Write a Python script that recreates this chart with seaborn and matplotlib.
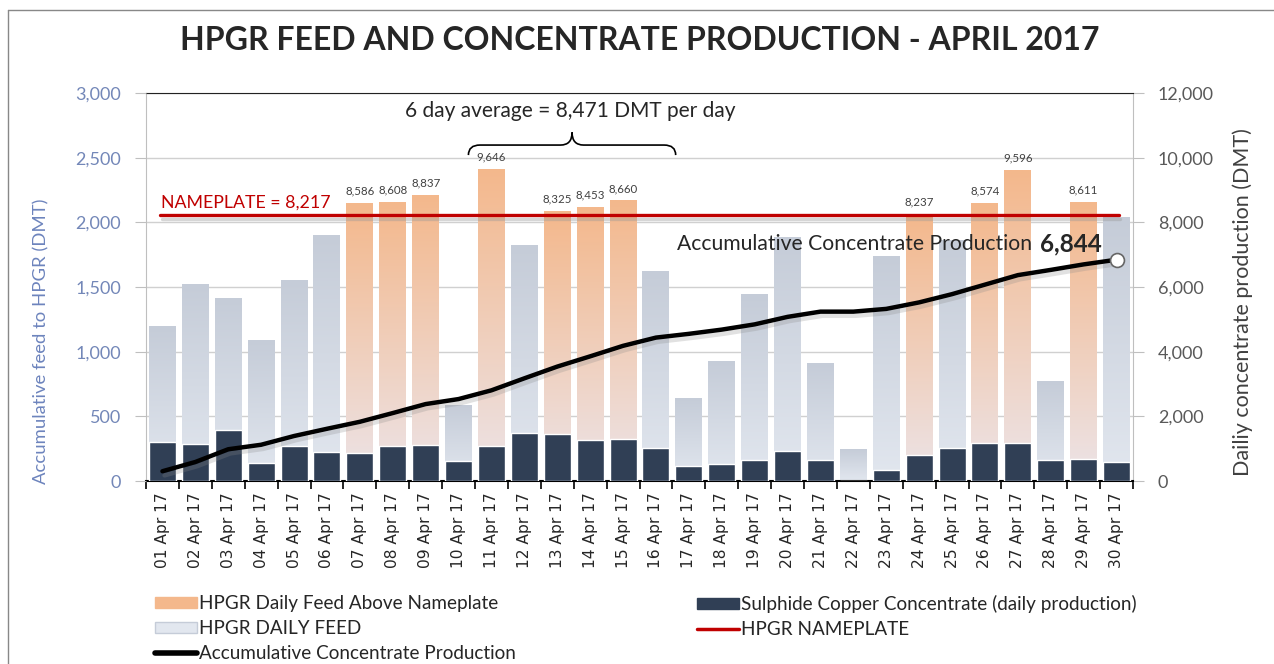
import numpy as np
import pandas as pd
import matplotlib
matplotlib.use("Agg")
import matplotlib.pyplot as plt
import matplotlib.patheffects as pe
from matplotlib.colors import LinearSegmentedColormap
from matplotlib.path import Path
from matplotlib.patches import PathPatch, Patch
from matplotlib.lines import Line2D
from matplotlib.ticker import FuncFormatter, FixedLocator
import seaborn as sns

# ---------------- data ----------------
days = ["%02d Apr 17" % d for d in range(1, 31)]
daily_feed = [4790, 6090, 5630, 4330, 6190, 7580, 8586, 8608, 8837, 2350,
              9646, 7270, 8325, 8453, 8660, 6465, 2540, 3710, 5780, 7520,
              3620, 960, 6930, 8237, 7450, 8574, 9596, 3090, 8611, 8150]
concentrate = [302, 286, 394, 139, 270, 224, 216, 270, 278, 155,
               270, 371, 363, 317, 325, 255, 116, 131, 162, 232,
               162, 0, 85, 201, 255, 294, 294, 162, 170, 145]
accum_conc = [302, 588, 982, 1121, 1391, 1615, 1831, 2101, 2379, 2534,
              2804, 3175, 3538, 3855, 4180, 4435, 4551, 4682, 4844, 5076,
              5238, 5238, 5323, 5524, 5779, 6073, 6367, 6529, 6699, 6844]
nameplate = 8217

sns.set_style("white")
plt.rcParams['font.family'] = ['Lato', 'DejaVu Sans']

df = pd.DataFrame({"day": days, "feed": daily_feed, "conc": concentrate})
df["status"] = np.where(df["feed"] > nameplate, "above", "below")

ORANGE_TOP, ORANGE_BOT = "#f4b88c", "#ece4e8"
GREY_TOP, GREY_BOT = "#c5ccd8", "#e2e7ef"
DARK = "#303f55"
RED = "#c00000"

fig = plt.figure(figsize=(12.74, 6.64), dpi=100)
ax_r = fig.add_axes([146/1274, 1-481/664, (1133-146)/1274, (481-93)/664])
ax = ax_r.twinx()
ax_l = ax_r.twinx()
ax_r.set_zorder(1)
ax.set_zorder(2)
ax_l.set_zorder(3)
for a in (ax, ax_l):
    a.patch.set_visible(False)

# daily feed bars with gradient
sns.barplot(data=df, x="day", y="feed", hue="status", hue_order=["below", "above"],
            palette={"below": GREY_TOP, "above": ORANGE_TOP}, dodge=False,
            width=0.82, legend=False, ax=ax_r)
grad = np.linspace(0, 1, 256).reshape(-1, 1)
cmaps = [LinearSegmentedColormap.from_list("g", [GREY_BOT, GREY_TOP]),
         LinearSegmentedColormap.from_list("o", [ORANGE_BOT, ORANGE_TOP])]
for cont, cm in zip(ax_r.containers, cmaps):
    for p in cont:
        x0, w, h = p.get_x(), p.get_width(), p.get_height()
        ax_r.imshow(grad, extent=[x0, x0 + w, 0, h], origin="lower",
                    aspect="auto", cmap=cm, zorder=1)
        p.set_visible(False)

# value labels over bars above nameplate
for i, v in enumerate(daily_feed):
    if v > nameplate:
        ax_r.annotate(f"{v:,}", (i, v), xytext=(0, 5), textcoords="offset points",
                      ha="center", va="bottom", fontsize=8.3, color="#404040", zorder=5)

# nameplate line
ax_r.plot([-0.07, 29.07], [nameplate, nameplate], color=RED, lw=2.4, zorder=4,
          path_effects=[pe.SimpleLineShadow(offset=(1, -3), shadow_color="#999999", alpha=0.4),
                        pe.Normal()])
ax_r.text(-0.03, nameplate + 160, "NAMEPLATE = 8,217", color=RED, fontsize=12.8,
          ha="left", va="bottom", zorder=5)

# concentrate bars (left axis)
sns.barplot(data=df, x="day", y="conc", color=DARK, saturation=1, width=0.82, ax=ax)

# accumulative line
xs = np.arange(len(days))
sns.lineplot(x=xs, y=accum_conc, color="black", lw=3.2, ax=ax_l,
             path_effects=[pe.SimpleLineShadow(offset=(1.5, -3), shadow_color="#888888", alpha=0.25),
                           pe.Normal()])
ax_l.plot(xs[-1], accum_conc[-1], "o", ms=10, mfc="white", mec="#666666", mew=1.2, zorder=6)
ax_l.text(15.64, 7330, "Accumulative Concentrate Production", fontsize=15.2, ha="left", va="center")
ax_l.text(27.6, 7330, "6,844", fontsize=17.5, fontweight="bold", ha="center", va="center")

# brace + average text
bx0, bx1, bm = 9.3, 15.6, 12.45
yb, yt, ye = 10390, 10780, 10080
r = 0.35
verts = [(bx0, ye), (bx0, yb), (bx0 + r, yb), (bm - r, yb), (bm, yb), (bm, yt),
         (bm, yb), (bm + r, yb), (bx1 - r, yb), (bx1, yb), (bx1, ye)]
codes = [Path.MOVETO, Path.CURVE3, Path.CURVE3, Path.LINETO, Path.CURVE3, Path.CURVE3,
         Path.CURVE3, Path.CURVE3, Path.LINETO, Path.CURVE3, Path.CURVE3]
ax_l.add_patch(PathPatch(Path(verts, codes), fill=False, lw=1.2, color="black", zorder=6))
ax_l.text(12.38, 11440, "6 day average = 8,471 DMT per day", fontsize=15,
          ha="center", va="center")

# axes limits and ticks
for a in (ax_r, ax_l):
    a.set_ylim(0, 12000)
ax.set_ylim(0, 3000)
for a in (ax_r, ax, ax_l):
    a.set_xlim(-0.5, 29.5)

fmt = FuncFormatter(lambda v, p: f"{int(v):,}")
ax_r.yaxis.tick_right()
ax_r.set_yticks(np.arange(0, 12001, 2000))
ax_r.yaxis.set_major_formatter(fmt)
ax_r.tick_params(axis="y", colors="#bfbfbf", labelcolor="#595959", labelsize=13,
                 length=8, pad=10, right=True, left=False, labelright=True, labelleft=False)
ax_r.set_ylabel("Dailiy concentrate production (DMT)", fontsize=15.5, color="#404040",
                rotation=90)
ax_r.yaxis.set_label_position("right")
ax_r.yaxis.set_label_coords(1.101, 0.461)
ax_r.grid(axis="y", color="#d0d0d0", lw=1)

ax.yaxis.tick_left()
ax.set_yticks(np.arange(0, 3001, 500))
ax.yaxis.set_major_formatter(fmt)
ax.tick_params(axis="y", colors="#bfbfbf", labelcolor="#7387b8", labelsize=13,
               length=8, pad=10, left=True, right=False, labelleft=True, labelright=False)
ax.set_ylabel("Accumulative feed to HPGR (DMT)", fontsize=13.3, color="#6d84bd")
ax.yaxis.set_label_position("left")
ax.yaxis.set_label_coords(-0.098, 0.36)

ax_l.set_yticks([])
ax_l.set_ylabel("")
for a in (ax, ax_l):
    a.set_xticks([])
    a.set_xlabel("")
    for s in a.spines.values():
        s.set_visible(False)

ax_r.set_xticks(xs)
ax_r.set_xticklabels(days, rotation=90, fontsize=11.2, family="DejaVu Sans")
ax_r.xaxis.set_minor_locator(FixedLocator(np.arange(-0.5, 30, 1)))
ax_r.tick_params(axis="x", which="major", length=0, pad=8)
ax_r.tick_params(axis="x", which="minor", length=6, width=1.2, color="black", bottom=True)
ax_r.set_xlabel("")
ax_r.spines["bottom"].set_color("black")
ax_r.spines["bottom"].set_linewidth(1.5)
ax_r.spines["top"].set_color("#222222")
ax_r.spines["left"].set_color("#bfbfbf")
ax_r.spines["right"].set_color("#bfbfbf")

fig.text(0.502, 1 - 40/664, "HPGR FEED AND CONCENTRATE PRODUCTION - APRIL 2017",
         fontsize=23, fontweight="bold", ha="center", va="center")

# frame
fig.add_artist(Line2D([8/1274, 1], [1 - 10/664, 1 - 10/664], color="#888888", lw=1))
fig.add_artist(Line2D([8/1274, 8/1274], [0, 1 - 10/664], color="#888888", lw=1))

# legends
h1 = [Patch(color=ORANGE_TOP), Patch(color=GREY_BOT, ec=GREY_TOP),
      Line2D([], [], color="black", lw=4)]
l1 = ["HPGR Daily Feed Above Nameplate", "HPGR DAILY FEED", "Accumulative Concentrate Production"]
h2 = [Patch(color=DARK), Line2D([], [], color=RED, lw=2.5)]
l2 = ["Sulphide Copper Concentrate (daily production)", "HPGR NAMEPLATE"]
kw = dict(frameon=False, fontsize=13.6, handlelength=2.2, handleheight=0.55,
          handletextpad=0.15, labelspacing=0.42, borderaxespad=0, borderpad=0)
leg1 = fig.legend(h1, l1, loc="upper left", bbox_to_anchor=(155/1274, 1 - 595/664), **kw)
leg2 = fig.legend(h2, l2, loc="upper left", bbox_to_anchor=(697/1274, 1 - 595/664), **kw)

fig.savefig("out.png", dpi=100)
